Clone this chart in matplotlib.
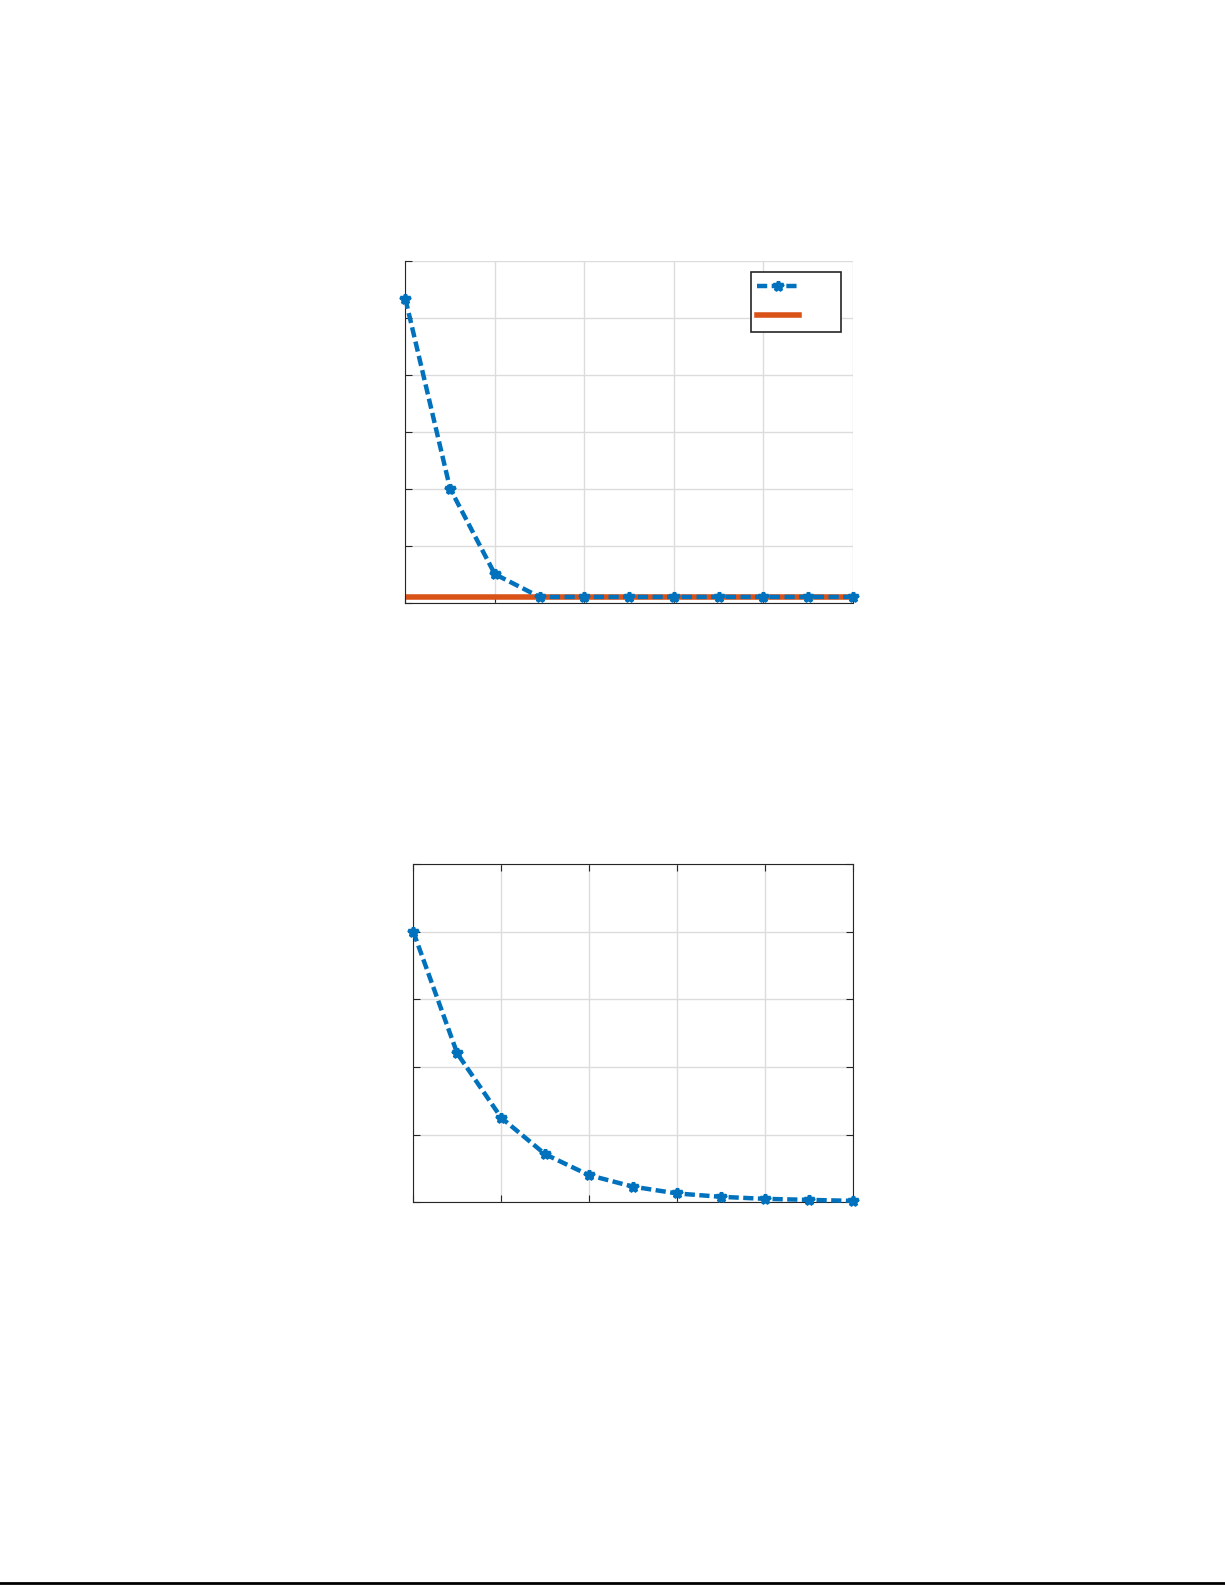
import numpy as np
import matplotlib
matplotlib.use("Agg")
import matplotlib.pyplot as plt
from matplotlib.lines import Line2D

# data
iters = [0, 1, 2, 3, 4, 5, 6, 7, 8, 9, 10]
err_top = [5.33, 2.0, 0.5, 0.1, 0.1, 0.1, 0.1, 0.1, 0.1, 0.1, 0.1]
ref_level = 0.09
err_bottom = [4.0, 2.2, 1.25, 0.71, 0.40, 0.23, 0.13, 0.08, 0.05, 0.035, 0.02]

blue = "#0072BD"
orange = "#D95319"
grid_c = "#dcdcdc"
dash = (0, (2.3, 1.0))

fig = plt.figure(figsize=(12.25, 15.85), dpi=100)

# top plot
ax1 = fig.add_axes([0.3309, 0.6198, 0.3652, 0.2158])
l1, = ax1.plot(iters, err_top, color=blue, ls=dash, lw=3.2,
               marker="*", ms=7, mew=2.5, clip_on=False, zorder=3)
l2 = ax1.axhline(ref_level, color=orange, lw=4, zorder=2)
ax1.set_xlim(0, 10)
ax1.set_ylim(0, 6)
ax1.set_xticks([0, 2, 4, 6, 8, 10])
ax1.set_yticks([0, 1, 2, 3, 4, 5, 6])
ax1.set_xticklabels([])
ax1.set_yticklabels([])
ax1.grid(True, color=grid_c, lw=1)
ax1.set_axisbelow(True)
ax1.spines["top"].set_visible(False)
ax1.spines["right"].set_visible(False)
ax1.spines["left"].set_color("#262626")
ax1.spines["bottom"].set_color("#262626")
ax1.tick_params(direction="in", length=5, color="#262626")
leg = ax1.legend([l1, l2], [" ", " "], loc="upper right",
                 bbox_to_anchor=(0.9745, 0.966), borderaxespad=0,
                 fontsize=13, handlelength=2.28, labelspacing=0.6,
                 borderpad=0.35, handletextpad=1.7,
                 fancybox=False, framealpha=1, edgecolor="#262626")
leg.get_frame().set_linewidth(1.2)

# bottom plot
ax2 = fig.add_axes([0.3374, 0.2415, 0.3587, 0.2133])
ax2.plot(iters, err_bottom, color=blue, ls=dash, lw=3.2,
         marker="*", ms=7, mew=2.5, clip_on=False, zorder=3)
ax2.set_xlim(0, 10)
ax2.set_ylim(0, 5)
ax2.set_xticks([0, 2, 4, 6, 8, 10])
ax2.set_yticks([0, 1, 2, 3, 4, 5])
ax2.set_xticklabels([])
ax2.set_yticklabels([])
ax2.grid(True, color=grid_c, lw=1)
ax2.set_axisbelow(True)
for s in ax2.spines.values():
    s.set_color("#262626")
ax2.tick_params(direction="in", length=5, color="#262626",
                top=True, right=True)

# page rule at the very bottom
fig.add_artist(Line2D([0, 1], [0.0012, 0.0012], color="black", lw=2,
                      transform=fig.transFigure))

fig.savefig("out.png", dpi=100)
